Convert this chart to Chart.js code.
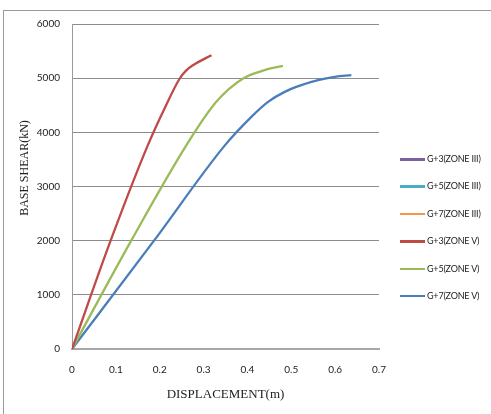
<!DOCTYPE html>
<html>
<head>
<meta charset="utf-8">
<script src="https://cdn.jsdelivr.net/npm/chart.js@4.4.1/dist/chart.umd.min.js"></script>
<style>
  html, body { margin: 0; padding: 0; background: #fff; }
  #wrap { position: relative; width: 491px; height: 414px; overflow: hidden; }
  #frame { position: absolute; left: 3px; top: 10px; width: 600px; height: 500px;
           border-left: 1px solid #9a9a9a; border-top: 1px solid #9a9a9a; }
  canvas { position: absolute; left: 0; top: 0; }
  #legend { position: absolute; left: 400px; top: 152px; font-family: Lato, "Open Sans", sans-serif;
            font-size: 9px; color: #222; }
  .item { position: relative; height: 27.4px; }
  .swatch { position: absolute; left: 0; top: 6px; width: 25px; height: 2.5px; }
  .lbl { position: absolute; left: 27px; top: 1px; white-space: nowrap; letter-spacing: -0.2px; }
</style>
</head>
<body>
<div id="wrap">
  <div id="frame"></div>
  <canvas id="c" width="491" height="414"></canvas>
  <div id="legend"></div>
</div>
<script>
// ---- data ----
const seriesNames = ["G+3(ZONE III)", "G+5(ZONE III)", "G+7(ZONE III)", "G+3(ZONE V)", "G+5(ZONE V)", "G+7(ZONE V)"];

// Zone III series show no visible data in the reference
const g3ZoneIIIDisp = [];
const g3ZoneIIIShear = [];
const g5ZoneIIIDisp = [];
const g5ZoneIIIShear = [];
const g7ZoneIIIDisp = [];
const g7ZoneIIIShear = [];

const g3ZoneVDisp  = [0, 0.088, 0.173, 0.211, 0.2456, 0.260, 0.276, 0.318];
const g3ZoneVShear = [0, 2000, 3764, 4441, 4994, 5140, 5240, 5424];

const g5ZoneVDisp  = [0, 0.135, 0.261, 0.329, 0.390, 0.439, 0.481];
const g5ZoneVShear = [0, 2000, 3764, 4563, 4994, 5148, 5227];

const g7ZoneVDisp  = [0, 0.187, 0.349, 0.409, 0.447, 0.485, 0.523, 0.561, 0.599, 0.637];
const g7ZoneVShear = [0, 2000, 3764, 4286, 4563, 4747, 4871, 4963, 5024, 5055];

const xTickLabels = ["0", "0.1", "0.2", "0.3", "0.4", "0.5", "0.6", "0.7"];
const yTickLabels = ["0", "1000", "2000", "3000", "4000", "5000", "6000"];

// ---- styles ----
const seriesColors = ["#7D60A0", "#4AACC5", "#F79646", "#BE4B48", "#9BBB59", "#4A7EBB"];

function pts(xs, ys) { return xs.map((x, i) => ({ x: x, y: ys[i] })); }
const seriesData = [
  pts(g3ZoneIIIDisp, g3ZoneIIIShear),
  pts(g5ZoneIIIDisp, g5ZoneIIIShear),
  pts(g7ZoneIIIDisp, g7ZoneIIIShear),
  pts(g3ZoneVDisp, g3ZoneVShear),
  pts(g5ZoneVDisp, g5ZoneVShear),
  pts(g7ZoneVDisp, g7ZoneVShear)
];

const yTitlePlugin = {
  id: 'yTitle',
  afterDraw(chart) {
    const ctx = chart.ctx;
    ctx.save();
    ctx.translate(25, 168);
    ctx.rotate(-Math.PI / 2);
    ctx.font = '12px "Liberation Serif", "Times New Roman", serif';
    ctx.fillStyle = '#222';
    ctx.textAlign = 'center';
    ctx.textBaseline = 'middle';
    ctx.fillText('BASE SHEAR(kN)', 0, 0);
    ctx.restore();
  }
};

const tickFont = { family: 'Lato, "Open Sans", sans-serif', size: 10 };

new Chart(document.getElementById('c'), {
  type: 'scatter',
  data: {
    datasets: seriesNames.map((n, i) => ({
      label: n,
      data: seriesData[i],
      showLine: true,
      borderColor: seriesColors[i],
      backgroundColor: seriesColors[i],
      borderWidth: 2.3,
      pointRadius: 0,
      cubicInterpolationMode: 'monotone'
    }))
  },
  options: {
    responsive: false,
    animation: false,
    devicePixelRatio: 1,
    layout: { padding: { left: 0, right: 112, top: 24, bottom: 0 } },
    plugins: { legend: { display: false }, tooltip: { enabled: false } },
    scales: {
      x: {
        type: 'linear', min: 0, max: 0.7,
        afterFit(s) { s.height = 65; },
        afterBuildTicks(s) { s.ticks = xTickLabels.map(v => ({ value: parseFloat(v) })); },
        ticks: { font: tickFont, color: '#222', padding: 15, maxRotation: 0,
                 callback: (v, i) => xTickLabels[i] },
        grid: { display: false, drawTicks: false },
        border: { display: true, color: '#a8a8a8', width: 2 },
        title: { display: true, text: 'DISPLACEMENT(m)', color: '#222',
                 font: { family: '"Liberation Serif", "Times New Roman", serif', size: 13 },
                 padding: { top: 0, bottom: 12 } }
      },
      y: {
        type: 'linear', min: 0, max: 6000,
        afterFit(s) { s.width = 72; },
        afterBuildTicks(s) { s.ticks = yTickLabels.map(v => ({ value: parseFloat(v) })); },
        ticks: { font: tickFont, color: '#222', padding: 12,
                 callback: (v, i) => yTickLabels[i] },
        grid: { color: '#8c8c8c', lineWidth: 1, drawTicks: false },
        border: { display: true, color: '#9a9a9a', width: 1 }
      }
    }
  },
  plugins: [yTitlePlugin]
});

// HTML legend built from series names/colours
const lg = document.getElementById('legend');
seriesNames.forEach((n, i) => {
  const it = document.createElement('div');
  it.className = 'item';
  it.innerHTML = '<div class="swatch" style="background:' + seriesColors[i] + '"></div><div class="lbl">' + n + '</div>';
  lg.appendChild(it);
});
</script>
</body>
</html>
